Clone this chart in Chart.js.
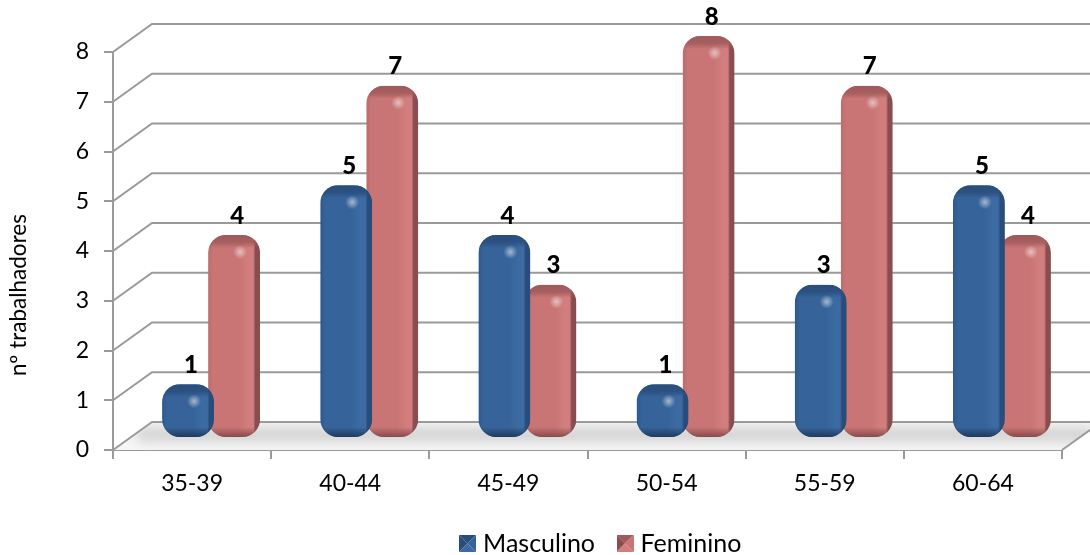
<!DOCTYPE html>
<html>
<head>
<meta charset="utf-8">
<style>
  html, body { margin: 0; padding: 0; background: #fff; overflow: hidden; }
  #wrap { width: 1090px; height: 555px; position: relative; }
</style>
<script src="https://cdn.jsdelivr.net/npm/chart.js@4"></script>
</head>
<body>
<div id="wrap"><canvas id="chart" width="1090" height="555"></canvas></div>
<script>
const ageGroups = ['35-39', '40-44', '45-49', '50-54', '55-59', '60-64'];
const masculino = [1, 5, 4, 1, 3, 5];
const feminino = [4, 7, 3, 8, 7, 4];
const yTicks = [0, 1, 2, 3, 4, 5, 6, 7, 8];
const yTitle = 'nº trabalhadores';

const FONT = 'Lato, "Open Sans", sans-serif';
const AXIS_GREY = '#9a9a9a';

// offset of the back wall and of the bars relative to the front axes
const WALL_DX = 39, WALL_DY = -28;
const BAR_DX = 19, BAR_DY = -16;
const LEGEND_SHIFT = 72;

const blueTones = {
    body: '#36649a', light: '#3c6ba3', side: '#2a4c7a', cap: '42,78,124', base: '30,58,96', edge: '#2e588c'
};
const redTones = {
    body: '#c97575', light: '#d27e7e', side: '#884d4e', cap: '160,90,91', base: '136,74,75', edge: '#bb6c6c'
};

// small pyramid swatch used as legend marker
function makeSwatch(t) {
    const c = document.createElement('canvas');
    c.width = 17; c.height = 17;
    const g = c.getContext('2d');
    const tri = (color, pts) => {
        g.fillStyle = color;
        g.beginPath();
        g.moveTo(pts[0], pts[1]);
        g.lineTo(pts[2], pts[3]);
        g.lineTo(8.5, 8.5);
        g.closePath();
        g.fill();
    };
    tri('rgb(' + t.cap + ')', [0, 0, 17, 0]);
    tri(t.side, [0, 0, 0, 17]);
    tri(t.body, [17, 0, 17, 17]);
    tri(t.light, [0, 17, 17, 17]);
    return c;
}

// back wall gridlines, the diagonals joining them to the axis, and the floor
function drawWalls(chart) {
    const { ctx, scales, chartArea, width } = chart;
    const yScale = scales.y;
    const left = chartArea.left, right = chartArea.right;
    const y0 = yScale.getPixelForValue(0);

    ctx.save();
    ctx.beginPath();
    ctx.moveTo(left, y0);
    ctx.lineTo(right, y0);
    ctx.lineTo(right + WALL_DX, y0 + WALL_DY);
    ctx.lineTo(left + WALL_DX, y0 + WALL_DY);
    ctx.closePath();
    ctx.fillStyle = '#f6f6f6';
    ctx.fill();
    ctx.clip();
    ctx.filter = 'blur(6px)';
    ctx.fillStyle = '#cfcfcf';
    ctx.fillRect(left + 24, y0 - 22, right - left + 6, 13);
    ctx.restore();

    ctx.save();
    ctx.strokeStyle = AXIS_GREY;
    ctx.lineWidth = 2;
    yTicks.forEach(v => {
        const py = yScale.getPixelForValue(v);
        ctx.beginPath();
        ctx.moveTo(left, py);
        ctx.lineTo(left + WALL_DX, py + WALL_DY);
        ctx.lineTo(width, py + WALL_DY);
        ctx.stroke();
    });
    ctx.beginPath();
    ctx.moveTo(right, y0);
    ctx.lineTo(right + WALL_DX, y0 + WALL_DY);
    ctx.stroke();
    ctx.restore();
}

function drawBar(ctx, el, t) {
    const half = 26;
    const x0 = el.x + BAR_DX - half;
    const x1 = el.x + BAR_DX + half;
    const top = el.y + BAR_DY;
    const bottom = el.base + BAR_DY + 4;
    const w = x1 - x0, h = bottom - top;
    const r = Math.min(18, h / 2);

    ctx.save();
    ctx.beginPath();
    ctx.roundRect(x0, top, w, h, r);
    ctx.clip();

    // body with a darker strip down the right side
    let g = ctx.createLinearGradient(x0, 0, x1, 0);
    g.addColorStop(0, t.edge);
    g.addColorStop(0.1, t.body);
    g.addColorStop(0.6, t.body);
    g.addColorStop(0.78, t.light);
    g.addColorStop(0.87, t.light);
    g.addColorStop(0.91, t.side);
    g.addColorStop(1, t.side);
    ctx.fillStyle = g;
    ctx.fillRect(x0, top, w, h);

    // darker cap, fading into the front face
    g = ctx.createLinearGradient(0, top, 0, top + 13);
    g.addColorStop(0, 'rgba(' + t.cap + ',1)');
    g.addColorStop(0.55, 'rgba(' + t.cap + ',0.85)');
    g.addColorStop(1, 'rgba(' + t.cap + ',0)');
    ctx.fillStyle = g;
    ctx.fillRect(x0, top, w, 13);

    // lower end rounding
    g = ctx.createLinearGradient(0, bottom - 10, 0, bottom);
    g.addColorStop(0, 'rgba(' + t.base + ',0)');
    g.addColorStop(1, 'rgba(' + t.base + ',1)');
    ctx.fillStyle = g;
    ctx.fillRect(x0, bottom - 10, w, 10);

    // highlight near the top
    const hx = x0 + 32, hy = top + 17;
    g = ctx.createRadialGradient(hx, hy, 0, hx, hy, 7);
    g.addColorStop(0, 'rgba(255,255,255,0.55)');
    g.addColorStop(1, 'rgba(255,255,255,0)');
    ctx.fillStyle = g;
    ctx.fillRect(hx - 7, hy - 7, 14, 14);
    ctx.restore();
}

const scenePlugin = {
    id: 'scene',
    afterLayout(chart) {
        // legend is centred under the page, not under the axes
        chart.legend.left += LEGEND_SHIFT;
        chart.legend.right += LEGEND_SHIFT;
    },
    beforeDatasetsDraw(chart) {
        drawWalls(chart);
    },
    beforeDatasetDraw(chart, args) {
        const tones = args.index === 0 ? blueTones : redTones;
        args.meta.data.forEach(el => drawBar(chart.ctx, el, tones));
        return false;
    },
    afterDatasetsDraw(chart) {
        const { ctx } = chart;
        ctx.save();
        ctx.font = '900 24px ' + FONT;
        ctx.fillStyle = '#000';
        ctx.textAlign = 'center';
        ctx.textBaseline = 'middle';
        chart.data.datasets.forEach((ds, i) => {
            chart.getDatasetMeta(i).data.forEach((el, k) => {
                ctx.fillText(ds.data[k], el.x + BAR_DX + 3, el.y + BAR_DY - 19);
            });
        });

        // axis title sits lower than the axis centre, so it is placed here
        ctx.translate(19, 295);
        ctx.rotate(-Math.PI / 2);
        ctx.font = '22.5px ' + FONT;
        ctx.fillText(yTitle, 0, 0);
        ctx.restore();
    }
};

new Chart(document.getElementById('chart'), {
    type: 'bar',
    data: {
        labels: ageGroups,
        datasets: [
            { label: 'Masculino', data: masculino, backgroundColor: blueTones.body, pointStyle: makeSwatch(blueTones) },
            { label: 'Feminino', data: feminino, backgroundColor: redTones.body, pointStyle: makeSwatch(redTones) }
        ]
    },
    plugins: [scenePlugin],
    options: {
        responsive: false,
        animation: false,
        categoryPercentage: 0.582,
        barPercentage: 1,
        // negative bottom padding: the legend's item padding also pads its box
        layout: { padding: { top: 52, right: 28, bottom: -11, left: 0 } },
        plugins: {
            tooltip: { enabled: false },
            legend: {
                position: 'bottom',
                labels: {
                    usePointStyle: true,
                    boxWidth: 6,
                    color: '#000',
                    font: { family: FONT, size: 25 },
                    padding: 27
                }
            }
        },
        scales: {
            x: {
                afterFit: s => { s.height = 54; },
                grid: { drawOnChartArea: false, tickLength: 9, color: AXIS_GREY, lineWidth: 2 },
                border: { color: AXIS_GREY, width: 2 },
                ticks: { color: '#000', font: { family: FONT, size: 23 }, padding: 11 }
            },
            y: {
                min: 0,
                max: 8,
                afterFit: s => { s.width = 113; },
                grid: { drawOnChartArea: false, tickLength: 9, color: AXIS_GREY, lineWidth: 2 },
                border: { color: AXIS_GREY, width: 2 },
                afterBuildTicks: s => { s.ticks = yTicks.map(v => ({ value: v })); },
                ticks: { color: '#000', font: { family: FONT, size: 23 }, padding: 15 }
            }
        }
    }
});
</script>
</body>
</html>
